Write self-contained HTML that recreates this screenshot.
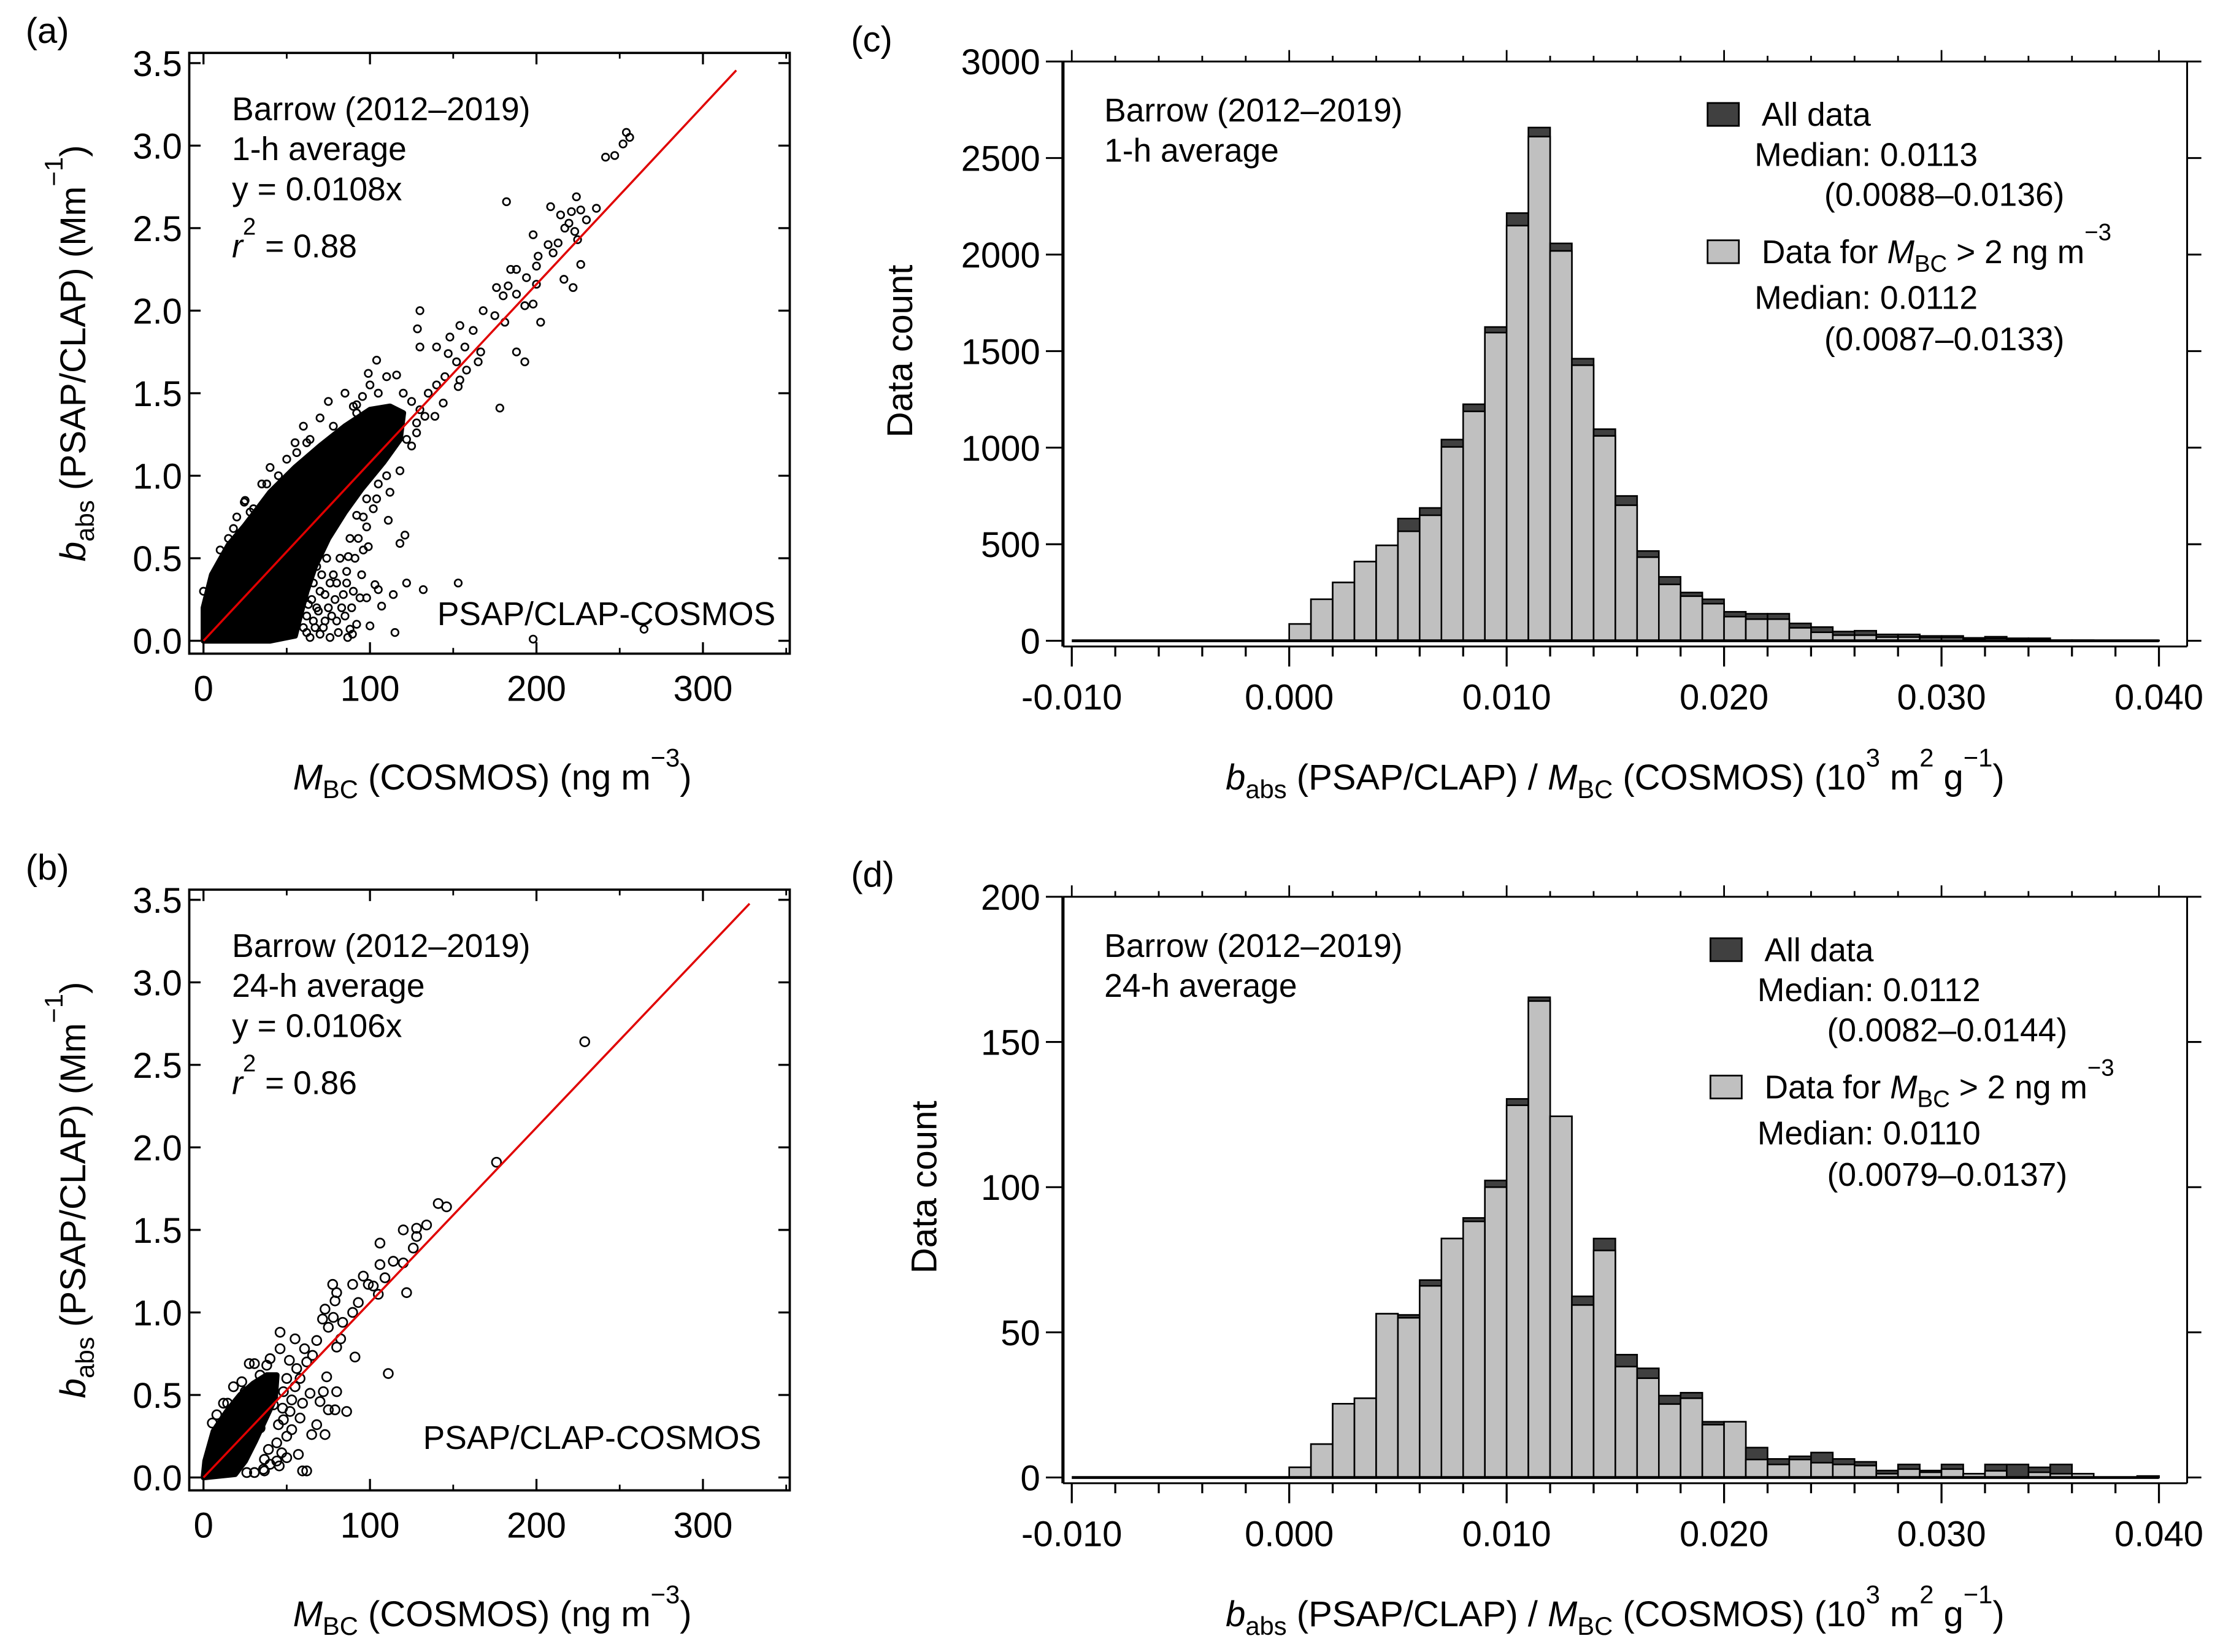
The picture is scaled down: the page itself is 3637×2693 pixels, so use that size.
<!DOCTYPE html>
<html><head><meta charset="utf-8"><style>
html,body{margin:0;padding:0;background:#fff}
svg{display:block}
text{font-family:"Liberation Sans",Arial,sans-serif;fill:#000}
</style></head><body>
<svg id="fig" xmlns="http://www.w3.org/2000/svg" width="3637" height="2693" viewBox="0 0 1560 1155" preserveAspectRatio="none">
<rect width="1560" height="1155" fill="#fff"/>
<g id="root" transform="scale(0.995,1)"></g>
</svg>
<script>
// ---------- DATA ----------
const histBinStart = 0.000;
const histBinWidth = 0.001;
const hourTotal = [87,215,302,410,494,633,688,1042,1225,1625,2215,2658,2058,1461,1096,750,465,331,250,215,150,140,140,90,71,48,52,33,33,25,25,15,21,13,13,3,3,2,2,2];
const hourGray  = [87,215,302,410,494,567,650,1004,1188,1596,2150,2611,2019,1427,1061,702,433,292,231,192,125,112,112,67,44,29,29,19,19,15,15,10,12,8,8,2,2,1,1,1];
const dayTotal = [3.5,11.5,25.4,27.3,56.4,56,68,82.3,89.4,102.3,130.4,165.4,124.4,62.4,82.3,42.3,37.6,28.2,29.2,19.2,19.2,10.3,6.4,7.3,8.6,6.4,5.4,2.4,4.5,2.4,4.5,1.3,4.5,4.5,3.5,4.5,1.3,0,0,0.5];
const dayGray  = [3.5,11.5,25.4,27.3,56.4,55,66,82.3,88.2,100,128.2,164.1,124.4,59.4,78.2,38.2,34.2,25.3,27.3,18.2,19.2,6.2,4.5,6.2,5.1,4.5,4.1,1.3,2.9,1.8,2.9,1.3,2.3,0,1.8,1.3,1.3,0,0,0.5];
const histXTicks = [-0.010,0.000,0.010,0.020,0.030,0.040];
const histXTickLabels = ["-0.010","0.000","0.010","0.020","0.030","0.040"];
const hourYTicks = [0,500,1000,1500,2000,2500,3000];
const dayYTicks = [0,50,100,150,200];
const scatXTicks = [0,100,200,300];
const scatYTicks = [0,0.5,1.0,1.5,2.0,2.5,3.0,3.5];
const slopeHour = 0.0108;
const slopeDay = 0.0106;
const lineEndHour = 320;
const lineEndDay = 328;
const hourCore = [[0,0],[0,0.2],[5,0.4],[15,0.58],[25,0.7],[40,0.9],[55,1.05],[70,1.18],[85,1.3],[100,1.4],[112,1.42],[120,1.38],[118,1.22],[108,1.08],[95,0.92],[85,0.78],[75,0.62],[67,0.45],[62,0.3],[58,0.15],[55,0.03],[40,0]];
const hourPoints = [[254,3.08],[256,3.05],[252,3.01],[241.5,2.93],[247,2.94],[182,2.66],[224,2.69],[208.5,2.63],[236,2.62],[214.5,2.58],[221,2.60],[226.6,2.61],[230,2.55],[219.5,2.53],[217,2.5],[223,2.48],[198,2.46],[207,2.40],[213,2.41],[210,2.35],[224.7,2.43],[226.6,2.28],[201,2.33],[200,2.27],[184.5,2.25],[188,2.25],[194,2.20],[176,2.14],[183,2.15],[188,2.10],[200,2.16],[216.5,2.19],[222,2.14],[180,2.09],[193,2.03],[198,2.04],[168,2.0],[175,1.97],[181,1.93],[202.5,1.93],[130,2.0],[128.5,1.89],[130,1.78],[154,1.91],[162,1.88],[148,1.84],[140,1.78],[166.5,1.75],[188,1.75],[193,1.69],[157,1.78],[147,1.74],[152,1.69],[165,1.69],[158,1.64],[154,1.58],[153,1.54],[178,1.41],[139,1.36],[133,1.36],[144,1.44],[104,1.70],[99,1.62],[116,1.61],[95.5,1.48],[92,1.43],[118,1.03],[111,0.73],[98,0.69],[121,0.64],[118,0.59],[99,0.57],[122,0.35],[103,0.34],[105,0.31],[114,0.28],[132,0.31],[153,0.35],[107,0.21],[100,0.09],[115,0.05],[198,0.01],[264.6,0.07],[89.5,0.04],[86.6,0.02],[94,0.26],[98,0.26],[86,0.35],[56,1.14],[24.5,0.84],[0,0.3],[87,0.51],[92,0.76],[104,0.86],[98,0.86],[128,1.26],[122,1.22],[60,0.3],[65,0.25],[70,0.3],[75,0.2],[80,0.35],[55,0.1],[62,0.05],[72,0.08],[85,0.15],[90,0.3],[78,0.4],[68,0.45],[82,0.5],[88,0.62],[95,0.4],[58,0.4],[52,0.2],[48,0.05],[66,0.12],[76,0.02],[92,0.1],[84,0.28],[20,0.75],[25,0.85],[10,0.55],[35,0.95],[40,1.05],[55,1.2],[60,1.3],[75,1.45],[85,1.5],[100,1.55],[110,1.6],[105,1.5],[120,1.5],[125,1.45],[115,1.25],[130,1.4],[135,1.5],[140,1.55],[145,1.6],[70,1.35],[90,1.42],[64,1.22],[45,1.0],[30,0.8],[15,0.62],[96,0.75],[74,0.5],[63,0.4],[57,0.25],[68,0.2],[80,0.12],[88,0.07],[70,0.04],[62,0.15],[66,0.35],[71,0.4],[73,0.28],[77,0.15],[79,0.25],[81,0.05],[83,0.2],[86,0.42],[89,0.2],[91,0.5],[93,0.62],[96,0.55],[102,0.8],[105,0.95],[110,1.0],[112,0.9],[125,1.18],[128,1.32],[64,0.02],[67,0.08],[69,0.18],[73,0.12],[76,0.35],[60,0.08],[63,0.22],[10,0.45],[18,0.68],[28,0.78],[38,0.95],[50,1.1],[62,1.2],[78,1.3],[92,1.38]];
const dayCore = [[0,0],[1,0.1],[6,0.28],[14,0.4],[22,0.5],[30,0.57],[38,0.62],[44,0.62],[43,0.48],[37,0.35],[31,0.22],[25,0.1],[19,0.02]];
const dayPoints = [[229,2.64],[176,1.91],[141,1.66],[146,1.64],[120,1.50],[128,1.51],[134,1.53],[128,1.46],[126,1.39],[106,1.42],[106,1.29],[114,1.31],[120,1.30],[109,1.21],[96,1.22],[122,1.12],[99,1.17],[102,1.16],[89.6,1.17],[77.6,1.17],[80,1.12],[105,1.11],[93,1.06],[89.6,1.00],[79,1.07],[73,1.02],[71.5,0.96],[78,0.97],[83.6,0.94],[82.4,0.84],[75,0.91],[46,0.88],[55,0.84],[68,0.83],[46,0.78],[51.6,0.71],[60.7,0.78],[65.5,0.74],[80,0.79],[91,0.73],[111,0.63],[74,0.61],[80,0.52],[72,0.52],[59.5,0.45],[64,0.51],[70,0.46],[75,0.41],[79,0.41],[86,0.40],[68,0.32],[73,0.26],[65,0.26],[57,0.14],[59.5,0.04],[62,0.04],[45.5,0.07],[36.6,0.04],[30.6,0.03],[30.6,0.69],[27.5,0.69],[23,0.58],[14.5,0.45],[5.3,0.33],[38,0.68],[53,0.47],[47.5,0.42],[58,0.36],[53,0.29],[44,0.21],[36.6,0.11],[39,0.17],[50,0.6],[56,0.66],[62,0.7],[48,0.52],[42,0.44],[34,0.3],[28,0.2],[20,0.12],[12,0.05],[40,0.72],[34,0.62],[25,0.52],[18,0.42],[10,0.3],[45,0.32],[50,0.25],[40,0.08],[26,0.03],[48,0.35],[52,0.4],[55,0.55],[58,0.6],[44,0.1],[47,0.15],[50,0.12],[36,0.05],[18,0.55],[12,0.45],[8,0.38]];

// ---------- HELPERS ----------
const NS = "http://www.w3.org/2000/svg";
const root = document.getElementById("root");
function mk(tag, attrs, parent){
  const e = document.createElementNS(NS, tag);
  for (const k in attrs) e.setAttribute(k, attrs[k]);
  (parent||root).appendChild(e);
  return e;
}
function txt(parent, x, y, s, size, anchor){
  const t = mk("text", {x:x, y:y, "font-size":size||23, "text-anchor":anchor||"start"}, parent);
  t.textContent = s;
  return t;
}
function richText(parent, x, y, parts, size, anchor, rot){
  const t = mk("text", {x:x, y:y, "font-size":size||23, "text-anchor":anchor||"start"}, parent);
  if (rot) t.setAttribute("transform", "rotate(-90 "+x+" "+y+")");
  parts.forEach(p=>{
    const s = document.createElementNS(NS,"tspan");
    s.textContent = p[0];
    if (p[1]==="i") s.setAttribute("font-style","italic");
    if (p[1]==="sub"){ s.setAttribute("font-size", size*0.72); s.setAttribute("dy", 6); }
    if (p[1]==="sup"){ s.setAttribute("font-size", size*0.72); s.setAttribute("dy", -16); }
    if (p[1]==="back"){ s.setAttribute("dy", p[2]); }
    t.appendChild(s);
  });
  return t;
}

// ---------- SCATTER ----------
function scatter(cfg){
  const g = mk("g", {});
  
  
  const X = v => cfg.x0 + v*cfg.kx;
  const Y = v => cfg.y0 - v*cfg.ky;
  const fr = mk("rect", {x:cfg.L, y:cfg.T, width:cfg.R-cfg.L, height:cfg.B-cfg.T, fill:"none", stroke:"#000", "stroke-width":1.6}, g);
  
  
  scatXTicks.forEach(v=>{
    mk("line",{x1:X(v),x2:X(v),y1:cfg.B,y2:cfg.B-8,stroke:"#000","stroke-width":1.4},g);
    mk("line",{x1:X(v),x2:X(v),y1:cfg.T,y2:cfg.T+8,stroke:"#000","stroke-width":1.4},g);
    const t = txt(g, X(v), cfg.B+33, String(v), 25, "middle");
    
    
  });
  [50,150,250,350].forEach(v=>{
    mk("line",{x1:X(v),x2:X(v),y1:cfg.B,y2:cfg.B-4,stroke:"#000","stroke-width":1.2},g);
    mk("line",{x1:X(v),x2:X(v),y1:cfg.T,y2:cfg.T+4,stroke:"#000","stroke-width":1.2},g);
  });
  scatYTicks.forEach(v=>{
    mk("line",{x1:cfg.L,x2:cfg.L+8,y1:Y(v),y2:Y(v),stroke:"#000","stroke-width":1.4},g);
    mk("line",{x1:cfg.R,x2:cfg.R-8,y1:Y(v),y2:Y(v),stroke:"#000","stroke-width":1.4},g);
    const t = txt(g, cfg.L-5, Y(v)+9, v.toFixed(1), 25, "end");
    
    
  });
  const core = mk("polygon", {points: cfg.core.map(p=>X(p[0])+","+Y(p[1])).join(" "), fill:"#000", stroke:"#000", "stroke-width":4, "stroke-linejoin":"round"}, g);
  
  
  cfg.pts.forEach(p=>{
    const c = mk("circle",{cx:X(p[0]),cy:Y(p[1]),r:cfg.r,fill:"none",stroke:"#000","stroke-width":1.15},g);
    
    
  });
  const ln = mk("line",{x1:X(0),y1:Y(0),x2:X(cfg.lineEnd),y2:Y(cfg.lineEnd*cfg.slope),stroke:"#e00000","stroke-width":1.5},g);
  
  
  txt(g, cfg.L+30, cfg.T+47, "Barrow (2012\u20132019)", 23);
  txt(g, cfg.L+30, cfg.T+75, cfg.avg, 23);
  txt(g, cfg.L+30, cfg.T+103, "y = "+cfg.slope+"x", 23);
  richText(g, cfg.L+30, cfg.T+143, [["r","i"],["2","sup"],[" = "+cfg.r2,"back",16]], 23);
  txt(g, cfg.labX, cfg.labY, "PSAP/CLAP-COSMOS", 23, "end");
  richText(g, (cfg.L+cfg.R)/2+2, cfg.B+95, [["M","i"],["BC","sub"],[" (COSMOS) (ng m","back",-6],["\u22123","sup"],[")","back",16]], 25, "middle");
  richText(g, 60, (cfg.T+cfg.B)/2, [["b","i"],["abs","sub"],[" (PSAP/CLAP) (Mm","back",-6],["\u22121","sup"],[")","back",16]], 25, "middle", true);
  txt(g, 18, cfg.T-7, cfg.panel, 25);
}
scatter({name:"scatter-panel-a", panel:"(a)", L:133, R:555, T:37, B:457, x0:143, kx:1.17, y0:448, ky:115.4,
  core:hourCore, pts:hourPoints, r:2.5, slope:slopeHour, lineEnd:lineEndHour, avg:"1-h average", r2:"0.88", labX:545, labY:437});
scatter({name:"scatter-panel-b", panel:"(b)", L:133, R:555, T:622, B:1042, x0:143, kx:1.17, y0:1033, ky:115.4,
  core:dayCore, pts:dayPoints, r:3.2, slope:slopeDay, lineEnd:lineEndDay, avg:"24-h average", r2:"0.86", labX:535, labY:1013});

// ---------- HISTOGRAMS ----------
function hist(cfg){
  const g = mk("g", {});
  
  
  const X = v => 906 + (v-0)*15280;
  const Y = v => cfg.y0 - (v/cfg.ymax)*(cfg.y0-cfg.ytop);
  const L=747, R=1537;
  mk("line",{x1:L,x2:R,y1:cfg.ytop,y2:cfg.ytop,stroke:"#000","stroke-width":1.3},g);
  mk("line",{x1:L,x2:L,y1:cfg.ytop,y2:cfg.y0+4,stroke:"#000","stroke-width":2.2},g);
  mk("line",{x1:R,x2:R,y1:cfg.ytop,y2:cfg.y0+4,stroke:"#000","stroke-width":1.3},g);
  mk("line",{x1:L,x2:R,y1:cfg.y0+4,y2:cfg.y0+4,stroke:"#000","stroke-width":1.3},g);
  cfg.total.forEach((v,i)=>{
    const x = X(histBinStart+i*histBinWidth), w = histBinWidth*15280;
    if (v>0){
      const b = mk("rect",{x:x,y:Y(v),width:w,height:cfg.y0-Y(v),fill:"#404040",stroke:"#000","stroke-width":1.1},g);
      
      
    }
    const gv = cfg.gray[i];
    if (gv>0){
      const b2 = mk("rect",{x:x,y:Y(gv),width:w,height:cfg.y0-Y(gv),fill:"#c0c0c0",stroke:"#000","stroke-width":1.1},g);
      
      
    }
  });
  mk("line",{x1:X(-0.010),x2:X(0.040),y1:cfg.y0,y2:cfg.y0,stroke:"#000","stroke-width":2},g);
  for (let k=0;k<=25;k++){
    const v = -0.010 + k*0.002;
    const major = (k%5===0);
    mk("line",{x1:X(v),x2:X(v),y1:cfg.y0+4,y2:cfg.y0+(major?18:11),stroke:"#000","stroke-width":1.4},g);
    mk("line",{x1:X(v),x2:X(v),y1:cfg.ytop,y2:cfg.ytop-(major?8:4),stroke:"#000","stroke-width":1.2},g);
  }
  histXTicks.forEach((v,i)=>{
    const t = txt(g, X(v), cfg.y0+48, histXTickLabels[i], 25, "middle");
    
    
  });
  cfg.yticks.forEach(v=>{
    mk("line",{x1:L-12,x2:L,y1:Y(v),y2:Y(v),stroke:"#000","stroke-width":1.3},g);
    mk("line",{x1:R,x2:R+10,y1:Y(v),y2:Y(v),stroke:"#000","stroke-width":1.3},g);
    const t = txt(g, L-16, Y(v)+9, String(v), 25, "end");
    
    
  });
  const yl = txt(g, cfg.ylabX, (cfg.ytop+cfg.y0)/2, "Data count", 25, "middle");
  yl.setAttribute("transform","rotate(-90 "+cfg.ylabX+" "+((cfg.ytop+cfg.y0)/2)+")");
  
  
  richText(g, 1135, cfg.y0+104, [["b","i"],["abs","sub"],[" (PSAP/CLAP) / ","back",-6],["M","i"],["BC","sub"],[" (COSMOS) (10","back",-6],["3","sup"],[" m","back",16],["2","sup"],[" g","back",16],["\u22121","sup"],[")","back",16]], 25, "middle");
  txt(g, 598, cfg.ytop-7, cfg.panel, 25);
  txt(g, 776, cfg.ytop+42, "Barrow (2012\u20132019)", 23);
  txt(g, 776, cfg.ytop+70, cfg.avg, 23);
  const lx = cfg.legX, ly = cfg.ytop;
  const s1 = mk("rect",{x:lx,y:ly+29,width:22,height:16,fill:"#404040",stroke:"#000","stroke-width":1.2},g);
  
  
  txt(g, lx+38, ly+45, "All data", 23);
  txt(g, lx+33, ly+73, "Median: "+cfg.med1, 23);
  txt(g, lx+82, ly+101, cfg.rng1, 23);
  const s2 = mk("rect",{x:lx,y:ly+125,width:22,height:16,fill:"#c0c0c0",stroke:"#000","stroke-width":1.2},g);
  
  
  richText(g, lx+38, ly+141, [["Data for "],["M","i"],["BC","sub"],[" > 2 ng m","back",-6],["\u22123","sup"]], 23);
  txt(g, lx+33, ly+173, "Median: "+cfg.med2, 23);
  txt(g, lx+82, ly+202, cfg.rng2, 23);
}
hist({name:"histogram-panel-c", panel:"(c)", total:hourTotal, gray:hourGray, ytop:43, y0:448, ymax:3000, yticks:hourYTicks,
  ylabX:641, avg:"1-h average", legX:1200, med1:"0.0113", rng1:"(0.0088\u20130.0136)", med2:"0.0112", rng2:"(0.0087\u20130.0133)"});
hist({name:"histogram-panel-d", panel:"(d)", total:dayTotal, gray:dayGray, ytop:627, y0:1033, ymax:200, yticks:dayYTicks,
  ylabX:658, avg:"24-h average", legX:1202, med1:"0.0112", rng1:"(0.0082\u20130.0144)", med2:"0.0110", rng2:"(0.0079\u20130.0137)"});
</script>
</body></html>
